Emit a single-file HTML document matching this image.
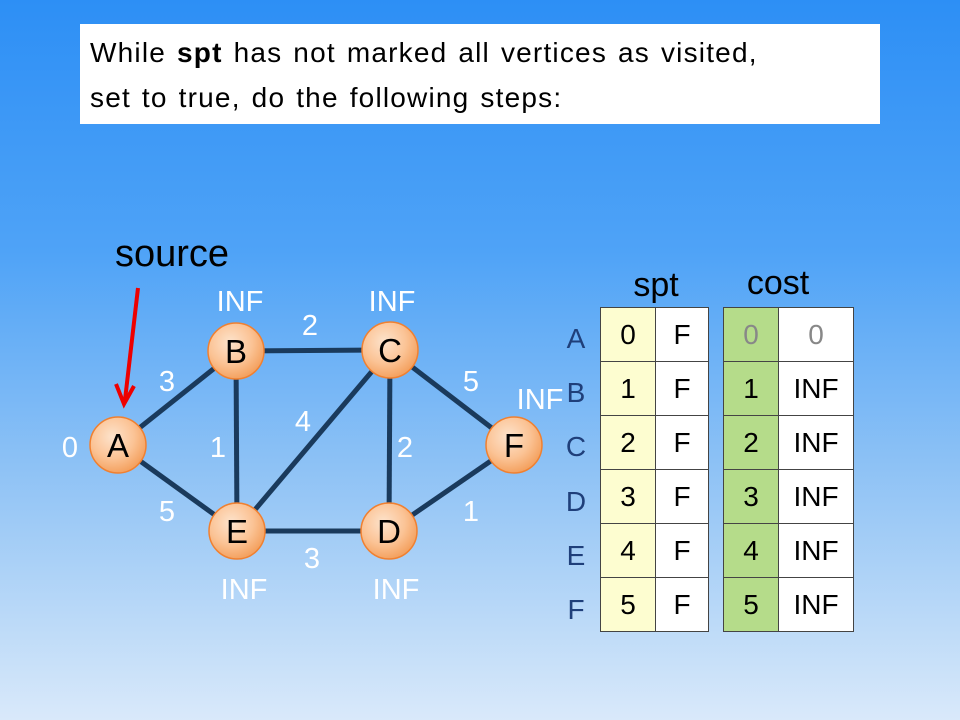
<!DOCTYPE html>
<html><head><style>
body{margin:0;width:960px;height:720px;overflow:hidden;font-family:"Liberation Sans",sans-serif;}
.bg{position:absolute;left:0;top:0;width:960px;height:720px;background:linear-gradient(#2d8ff5 0%,#4fa3f7 35%,#8ec2f5 65%,#d9e9fa 100%);}
.box{position:absolute;left:80px;top:24px;width:800px;height:100px;background:#fff;font-size:28px;line-height:45px;letter-spacing:1.2px;word-spacing:2px;box-sizing:border-box;padding:6px 0 0 10px;color:#000}
table{position:absolute;border-collapse:collapse;font-size:28px}
td{border:1.5px solid #444;text-align:center;padding:0;height:53px}
</style></head><body>
<div class="bg"></div>
<div class="box">While <b>spt</b> has not marked all vertices as visited,<br>set to true, do the following steps:</div>
<svg width="960" height="720" style="position:absolute;left:0;top:0" font-family="Liberation Sans, sans-serif">
<defs><radialGradient id="g" cx="40%" cy="35%" r="65%"><stop offset="0" stop-color="#fde3cc"/><stop offset="0.6" stop-color="#fbc395"/><stop offset="1" stop-color="#f4a261"/></radialGradient></defs>
<g stroke="#1a3a5c" stroke-width="5">
<line x1="118" y1="445" x2="236" y2="351"/><line x1="118" y1="445" x2="237" y2="531"/>
<line x1="236" y1="351" x2="390" y2="350"/><line x1="236" y1="351" x2="237" y2="531"/>
<line x1="390" y1="350" x2="237" y2="531"/><line x1="390" y1="350" x2="389" y2="531"/>
<line x1="390" y1="350" x2="514" y2="445"/><line x1="237" y1="531" x2="389" y2="531"/>
<line x1="389" y1="531" x2="514" y2="445"/></g>
<g stroke="#f08030" stroke-width="1.5" fill="url(#g)">
<circle cx="118" cy="445" r="28"/><circle cx="236" cy="351" r="28"/><circle cx="390" cy="350" r="28"/>
<circle cx="389" cy="531" r="28"/><circle cx="237" cy="531" r="28"/><circle cx="514" cy="445" r="28"/></g>
<g font-size="33" text-anchor="middle" fill="#000">
<text x="118" y="457">A</text><text x="236" y="363">B</text><text x="390" y="362">C</text>
<text x="389" y="543">D</text><text x="237" y="543">E</text><text x="514" y="457">F</text></g>
<g font-size="29" text-anchor="middle" fill="#fff">
<text x="167" y="391">3</text><text x="167" y="521">5</text><text x="218" y="457">1</text>
<text x="310" y="335">2</text><text x="303" y="431">4</text><text x="405" y="457">2</text>
<text x="471" y="391">5</text><text x="471" y="521">1</text><text x="312" y="568">3</text>
<text x="70" y="457">0</text><text x="240" y="311">INF</text><text x="392" y="311">INF</text>
<text x="540" y="409">INF</text><text x="244" y="599">INF</text><text x="396" y="599">INF</text></g>
<text x="115" y="266" font-size="38" fill="#000">source</text>
<line x1="138" y1="288" x2="125" y2="400" stroke="#e00" stroke-width="4"/>
<polyline points="116,384 124,404 134,386" fill="none" stroke="#e00" stroke-width="4"/>
<text x="656" y="296" font-size="34" text-anchor="middle">spt</text>
<text x="778" y="294" font-size="34" text-anchor="middle">cost</text>
<g font-size="28" fill="#1f3f7a" text-anchor="middle">
<text x="576" y="348">A</text><text x="576" y="402">B</text><text x="576" y="456">C</text>
<text x="576" y="511">D</text><text x="576" y="565">E</text><text x="576" y="619">F</text></g>
</svg>
<table style="left:600px;top:307px;width:109px">
<tr><td style="width:54px;background:#fdfdd0">0</td><td style="background:#fff">F</td></tr>
<tr><td style="background:#fdfdd0">1</td><td style="background:#fff">F</td></tr>
<tr><td style="background:#fdfdd0">2</td><td style="background:#fff">F</td></tr>
<tr><td style="background:#fdfdd0">3</td><td style="background:#fff">F</td></tr>
<tr><td style="background:#fdfdd0">4</td><td style="background:#fff">F</td></tr>
<tr><td style="background:#fdfdd0">5</td><td style="background:#fff">F</td></tr>
</table>
<table style="left:723px;top:307px;width:131px">
<tr><td style="width:54px;background:#b5dc8a;color:#888">0</td><td style="background:#fff;color:#888">0</td></tr>
<tr><td style="background:#b5dc8a">1</td><td style="background:#fff">INF</td></tr>
<tr><td style="background:#b5dc8a">2</td><td style="background:#fff">INF</td></tr>
<tr><td style="background:#b5dc8a">3</td><td style="background:#fff">INF</td></tr>
<tr><td style="background:#b5dc8a">4</td><td style="background:#fff">INF</td></tr>
<tr><td style="background:#b5dc8a">5</td><td style="background:#fff">INF</td></tr>
</table>
</body></html>
